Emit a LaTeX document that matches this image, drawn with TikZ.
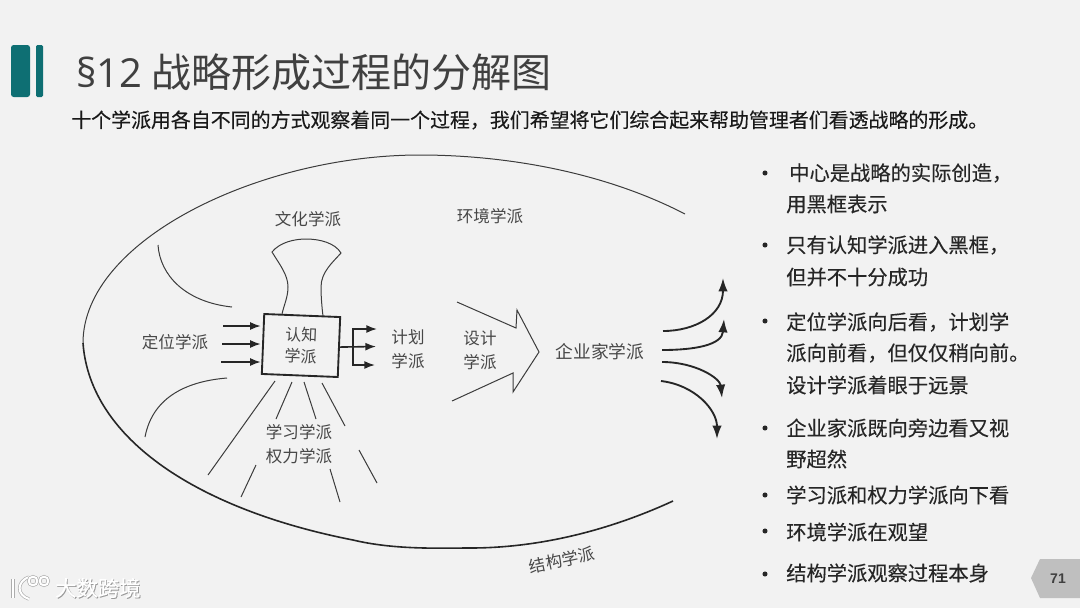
\documentclass[tikz,border=0pt]{standalone}
\usepackage{fontspec}
\setmainfont{Noto Sans CJK SC}
\newfontfamily\numfont{Liberation Sans}
\newfontfamily\headfont{Open Sans}
\newfontfamily\heavyfont[FakeBold=0.25]{Noto Sans CJK SC}
\usepackage{xcolor}
\usepackage{tikz}
\usetikzlibrary{arrows.meta,positioning,calc}
\definecolor{pagebg}{HTML}{F2F2F2}
\definecolor{barteal}{HTML}{0E6F73}
\definecolor{titlegray}{HTML}{404040}
\definecolor{sketchgray}{HTML}{3C3C3C}
\tikzset{
  schoollabel/.style={text=black!72,font=\fontsize{12.4pt}{15pt}\selectfont,inner sep=0pt,align=center},
  noteline/.style={anchor=west,inner sep=0pt,text=black!85,font=\heavyfont\fontsize{15.2pt}{18pt}\selectfont},
  notedot/.style={circle,fill=black!85,inner sep=0pt,minimum size=3.8pt},
  thinline/.style={draw=sketchgray,line width=.75pt},
  heavyline/.style={draw=black!85,line width=1.2pt},
  flowline/.style={draw=black!85,line width=1.2pt,-{Latex[length=8pt,width=6pt]}},
  curveflow/.style={draw=black!85,line width=1.4pt,-{Latex[length=10pt,width=7pt]}},
  logostroke/.style={draw=black!32,double=white,double distance=1.5pt,line width=.5pt},
}

\begin{document}
\begin{tikzpicture}[x=.75pt,y=-.75pt,>=Latex]
  \useasboundingbox (0,0) rectangle (1080,608);
  \fill[pagebg] (0,0) rectangle (1080,608);

  % heading
  \fill[barteal,rounded corners=2pt] (11,45) rectangle (30,97);
  \fill[barteal,rounded corners=1pt] (36,45) rectangle (43,97);
  \node[anchor=west,inner sep=0pt,text=titlegray,font=\fontsize{30pt}{36pt}\selectfont] (title) at (76,72) {{\headfont §12} 战略形成过程的分解图};
  \node[anchor=west,inner sep=0pt,text=black!90,font=\heavyfont\fontsize{14.95pt}{18pt}\selectfont] (subtitle) at (71,120) {十个学派用各自不同的方式观察着同一个过程，我们希望将它们综合起来帮助管理者们看透战略的形成。};

  % outer curve
  \draw[thinline] (685,214) .. controls (600,170) and (500,155) .. (420,155) .. controls (260,155) and (83,240) .. (83,343);
  \draw[heavyline] (83,343) .. controls (90,440) and (200,510) .. (353,540) .. controls (395,550) and (440,548) .. (470,548) .. controls (540,548) and (610,530) .. (673,501);

  % centre box
  \node[draw=black!85,line width=1.4pt,minimum width=57pt,minimum height=45pt,inner sep=0pt,rotate=-2.3,
    text=black!72,align=center,font=\fontsize{12pt}{16pt}\selectfont] (box) at (301,345.5) {认知\\学派};

  \coordinate (inA) at (223,326);
  \coordinate (inB) at (222,344);
  \coordinate (inC) at (221,362);
  \foreach \p in {inA,inB,inC}
    \draw[flowline,shorten >=1pt] (\p) -- (\p -| box.west);

  \coordinate (fork) at (353,346.5);
  \coordinate (planTop) at (377,329);
  \coordinate (planMid) at (376,346.5);
  \coordinate (planBot) at (375,365);
  \draw[flowline] (box.east) -- (planMid);
  \draw[flowline] (fork) |- (planTop);
  \draw[flowline] (fork) |- (planBot);

  % vase and side arcs
  \draw[thinline] (282,314) .. controls (284,305) and (288,297) .. (288,287) .. controls (288,275) and (280,265) .. (272,252)
    .. controls (280,242) and (295,239) .. (306,239) .. controls (320,239) and (335,243) .. (341,253)
    .. controls (333,262) and (321,272) .. (321,287) .. controls (321,297) and (322,308) .. (323,316);
  \draw[thinline] (158,245) .. controls (160,275) and (185,302) .. (232,307);
  \draw[thinline] (227,378) .. controls (190,381) and (153,395) .. (145,437);

  % rays below the box
  \foreach \ax/\ay/\bx/\by in {275/381/208/475,292/382/276/419,304/382/316/419,322/383/345/426,256/465/241/497,330/469/340/502,359/450/377/483}
    \draw[thinline] (\ax,\ay) -- (\bx,\by);

  % big arrow
  \draw[thinline] (457,302) -- (516,328) -- (517,310) -- (539,352) -- (513,392) -- (513,373) -- (452,401);

  % arrows leaving the entrepreneur
  \coordinate (outA) at (663,331);
  \coordinate (outB) at (662,350);
  \coordinate (outC) at (662,362);
  \coordinate (outD) at (661,381);
  \draw[curveflow] (outA) .. controls (695,331) and (723,315) .. (723,278);
  \draw[curveflow] (outB) .. controls (695,350) and (722,345) .. (724,319);
  \draw[curveflow] (outC) .. controls (695,362) and (720,378) .. (722,398);
  \draw[curveflow] (outD) .. controls (695,385) and (717,410) .. (717,439);

  % school labels
  \node[schoollabel] (culture) at (308,219) {文化学派};
  \node[schoollabel] (environment) at (490,216) {环境学派};
  \node[schoollabel] (positioning) at (175,342) {定位学派};
  \node[schoollabel] (planning) at (408,349) {计划\\[3pt]学派};
  \node[schoollabel] (design) at (480,350) {设计\\[3pt]学派};
  \node[schoollabel,font=\fontsize{13.3pt}{16pt}\selectfont] (entrepreneur) at (600,352) {企业家学派};
  \node[schoollabel] (learning) at (299,432) {学习学派};
  \node[schoollabel] (power) at (299,456) {权力学派};
  \node[schoollabel,rotate=12] (structure) at (562,560) {结构学派};

  % notes on the right
  \foreach \i/\tx/\ty/\txt in {1/789/173/中心是战略的实际创造，,2/786/204/用黑框表示,3/786/245/只有认知学派进入黑框，,4/786/277/但并不十分成功,5/786/322/定位学派向后看，计划学,6/786/353/派向前看，但仅仅稍向前。,7/786/385/设计学派着眼于远景,8/786/428/企业家派既向旁边看又视,9/786/459/野超然,10/786/495/学习派和权力学派向下看,11/786/532/环境学派在观望,12/786/573/结构学派观察过程本身}
    \node[noteline] (note\i) at (\tx,\ty) {\txt};
  \foreach \j/\dy in {1/173,2/245,3/321,4/428,5/495,6/531,7/574}
    \node[notedot] (dot\j) at (765,\dy) {};

  % page tab
  \fill[black!25] (1031,578) -- (1040,559) -- (1080,559) -- (1080,598) -- (1040,598) -- cycle;
  \node[inner sep=0pt,text=black!75,font=\numfont\bfseries\fontsize{10.5pt}{12pt}\selectfont] (pagenum) at (1058,579) {71};

  % logo
  \draw[logostroke] (13,579) -- (13,598);
  \draw[logostroke] (29,577) .. controls (17,581) and (16,595) .. (29,599);
  \node[circle,logostroke,minimum size=6.5pt,inner sep=0pt] (ringA) at (33,581) {};
  \node[circle,logostroke,minimum size=6.5pt,inner sep=0pt] (ringB) at (44,581) {};
  \node[anchor=west,inner sep=0pt,text=black!40,font=\heavyfont\fontsize{16pt}{18pt}\selectfont] (logoshade) at (55.9,588.9) {大数跨境};
  \node[anchor=west,inner sep=0pt,text=white,font=\heavyfont\fontsize{16pt}{18pt}\selectfont] (logotext) at (55,588) {大数跨境};
\end{tikzpicture}
\end{document}
